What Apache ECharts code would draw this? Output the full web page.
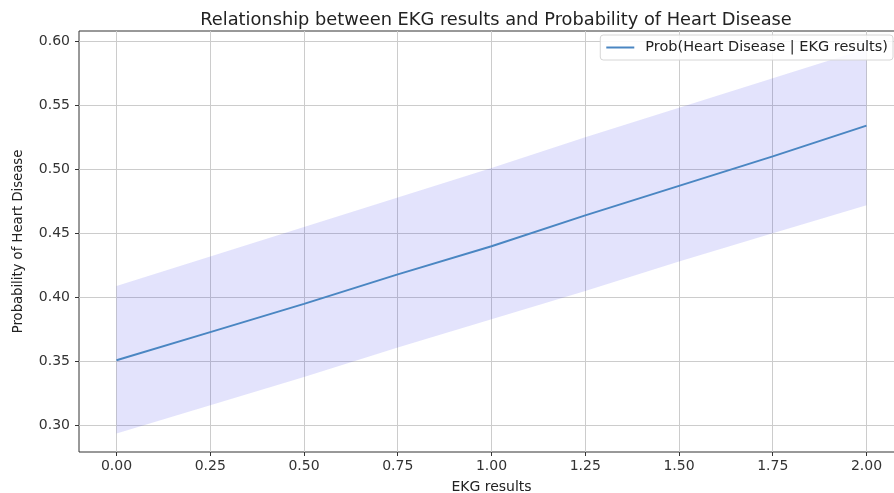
<!DOCTYPE html>
<html>
<head>
<meta charset="utf-8">
<script src="https://cdn.jsdelivr.net/npm/echarts@6/dist/echarts.min.js"></script>
<style>
  html, body { margin: 0; padding: 0; background: #fff; }
  #chart { width: 894px; height: 493px; }
</style>
</head>
<body>
<div id="chart"></div>
<script>
// EKG result values along the x axis
const ekg = [0.00, 0.25, 0.50, 0.75, 1.00, 1.25, 1.50, 1.75, 2.00];
// Predicted probability of heart disease
const prob = [0.351, 0.373, 0.395, 0.418, 0.440, 0.464, 0.487, 0.510, 0.534];
// Confidence band bounds
const lowerBound = [0.294, 0.316, 0.338, 0.361, 0.383, 0.405, 0.428, 0.450, 0.472];
const upperBound = [0.409, 0.432, 0.455, 0.478, 0.501, 0.525, 0.548, 0.571, 0.594];
// Tick positions
const xTicks = [0.00, 0.25, 0.50, 0.75, 1.00, 1.25, 1.50, 1.75, 2.00];
const yTicks = [0.30, 0.35, 0.40, 0.45, 0.50, 0.55, 0.60];

const seriesName = 'Prob(Heart Disease | EKG results)';
const font = 'DejaVu Sans';

const chart = echarts.init(document.getElementById('chart'), null, { renderer: 'canvas' });

const gridLine = { show: true, lineStyle: { color: '#cccccc', width: 1 } };

// Confidence band drawn as one polygon: upper edge left-to-right, lower edge back
function renderBand(params, api) {
  if (params.dataIndex !== 0) return null;
  const pts = [];
  for (let i = 0; i < ekg.length; i++) pts.push(api.coord([ekg[i], upperBound[i]]));
  for (let i = ekg.length - 1; i >= 0; i--) pts.push(api.coord([ekg[i], lowerBound[i]]));
  return {
    type: 'polygon',
    shape: { points: pts },
    style: { fill: 'rgba(40,40,235,0.13)' },
    silent: true
  };
}

chart.setOption({
  animation: false,
  backgroundColor: '#ffffff',
  title: {
    text: 'Relationship between EKG results and Probability of Heart Disease',
    left: 491, top: 6, textAlign: 'center',
    textStyle: { fontFamily: font, fontSize: 17.8, fontWeight: 'normal', color: '#222' }
  },
  legend: {
    data: [{ name: seriesName, icon: 'rect' }],
    right: 1, top: 35,
    padding: [5, 5, 5, 6],
    itemWidth: 28, itemHeight: 2, itemGap: 6,
    backgroundColor: 'rgba(255,255,255,0.85)',
    borderColor: '#d6d6d6', borderWidth: 1, borderRadius: 3,
    textStyle: { fontFamily: font, fontSize: 14.5, color: '#222', padding: [0, 0, 0, 6] }
  },
  grid: {
    left: 79, top: 31, width: 825, height: 421,
    outerBoundsMode: 'none', containLabel: false,
    show: true, borderColor: '#333', borderWidth: 1, backgroundColor: 'transparent'
  },
  xAxis: {
    type: 'value', min: -0.1, max: 2.1,
    name: 'EKG results', nameLocation: 'middle', nameGap: 28,
    nameTextStyle: { fontFamily: font, fontSize: 14, color: '#222' },
    axisLine: { show: false, onZero: false },
    axisTick: { show: true, length: 4, customValues: xTicks, lineStyle: { color: '#333' } },
    axisLabel: {
      customValues: xTicks, fontFamily: font, fontSize: 14, color: '#333', margin: 7,
      formatter: v => v.toFixed(2)
    },
    splitLine: gridLine
  },
  yAxis: {
    type: 'value', min: 0.2795, max: 0.6078,
    name: 'Probability of Heart Disease', nameLocation: 'middle', nameGap: 54, nameRotate: 90,
    nameTextStyle: { fontFamily: font, fontSize: 13.2, color: '#222' },
    axisLine: { show: false, onZero: false },
    axisTick: { show: true, length: 4, customValues: yTicks, lineStyle: { color: '#333' } },
    axisLabel: {
      customValues: yTicks, fontFamily: font, fontSize: 14, color: '#333', margin: 9,
      formatter: v => v.toFixed(2)
    },
    splitLine: gridLine
  },
  series: [
    {
      name: 'band', type: 'custom', renderItem: renderBand, silent: true, z: 1,
      data: ekg.map((x, i) => [x, lowerBound[i], upperBound[i]]),
      encode: { x: 0, y: [1, 2] }
    },
    {
      name: seriesName, type: 'line', symbol: 'none', z: 5,
      lineStyle: { color: '#4a86c2', width: 2 },
      itemStyle: { color: '#4a86c2' },
      data: ekg.map((x, i) => [x, prob[i]])
    }
  ]
});
</script>
</body>
</html>
